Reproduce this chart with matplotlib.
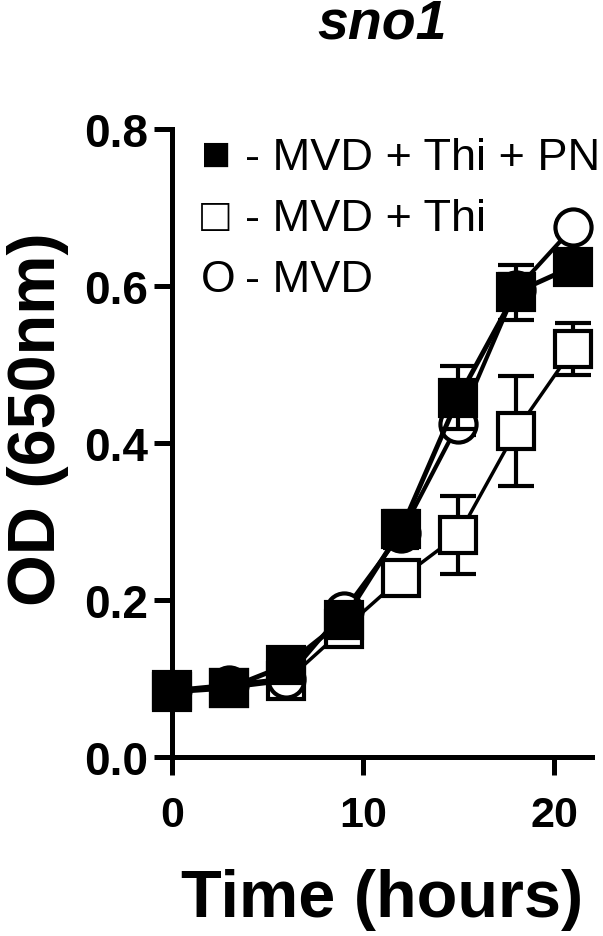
import matplotlib.pyplot as plt

# dados
tempo = [0, 3, 6, 9, 12, 15, 18, 21]

od_thi_pn = [0.083, 0.088, 0.117, 0.175, 0.290, 0.458, 0.592, 0.625]
err_thi_pn = [0.005, 0.005, 0.008, 0.010, 0.024, 0.040, 0.035, 0.010]

od_thi = [0.085, 0.088, 0.097, 0.163, 0.228, 0.283, 0.415, 0.520]
err_thi = [0.005, 0.005, 0.006, 0.008, 0.010, 0.050, 0.070, 0.033]

od_mvd = [0.085, 0.092, 0.100, 0.186, 0.285, 0.425, 0.595, 0.675]
err_mvd = [0.004, 0.004, 0.006, 0.008, 0.012, 0.015, 0.020, 0.008]

simbolos = ["\u25a0", "\u25a1", "O"]
legenda = ["- MVD + Thi + PN", "- MVD + Thi", "- MVD"]

plt.rcParams['font.family'] = ['Liberation Sans', 'DejaVu Sans']

fig = plt.figure(figsize=(6.03, 9.37), dpi=100)
ax = fig.add_axes([0.285, 0.191, 0.697, 0.670])

estilo = dict(color='black', capsize=13, elinewidth=3, capthick=3,
              markersize=26, markeredgewidth=3, clip_on=False)

ax.errorbar(tempo, od_thi, yerr=err_thi, marker='s', markerfacecolor='white',
            linewidth=2.5, zorder=2, **estilo)
ax.errorbar(tempo, od_mvd, yerr=err_mvd, marker='o', markerfacecolor='white',
            linewidth=3, zorder=3, **estilo)
ax.errorbar(tempo, od_thi_pn, yerr=err_thi_pn, marker='s', markerfacecolor='black',
            linewidth=3.5, zorder=4, **estilo)

ax.set_xlim(0, 22)
ax.set_ylim(0, 0.8)
ax.set_xticks([0, 10, 20])
ax.set_yticks([0.0, 0.2, 0.4, 0.6, 0.8])
ax.set_yticklabels(["0.0", "0.2", "0.4", "0.6", "0.8"])

for lado in ['top', 'right']:
    ax.spines[lado].set_visible(False)
for lado in ['left', 'bottom']:
    ax.spines[lado].set_linewidth(3.6)
ax.tick_params(width=3.6, length=13)
ax.tick_params(axis='x', labelsize=31, pad=14)
ax.tick_params(axis='y', labelsize=33, pad=4)
for rot in ax.get_xticklabels() + ax.get_yticklabels():
    rot.set_fontweight('bold')

ax.set_xlabel("Time (hours)", fontsize=48, fontweight='bold', labelpad=24)
ax.set_ylabel("OD (650nm)", fontsize=48, fontweight='bold')
ax.yaxis.set_label_coords(-0.245, 0.54)
ax.set_title("sno1", fontsize=40, fontweight='bold', style='italic', pad=66)

# legenda como texto, igual ao original
tamanhos = [36, 34, 32]
for i, (s, txt) in enumerate(zip(simbolos, legenda)):
    y = 0.749 - i * 0.0775
    ax.text(1.5, y, s, fontsize=tamanhos[i], va='baseline', ha='left')
    ax.text(3.85, y, txt, fontsize=32.5, va='baseline', ha='left')

fig.savefig("out.png", dpi=100)
